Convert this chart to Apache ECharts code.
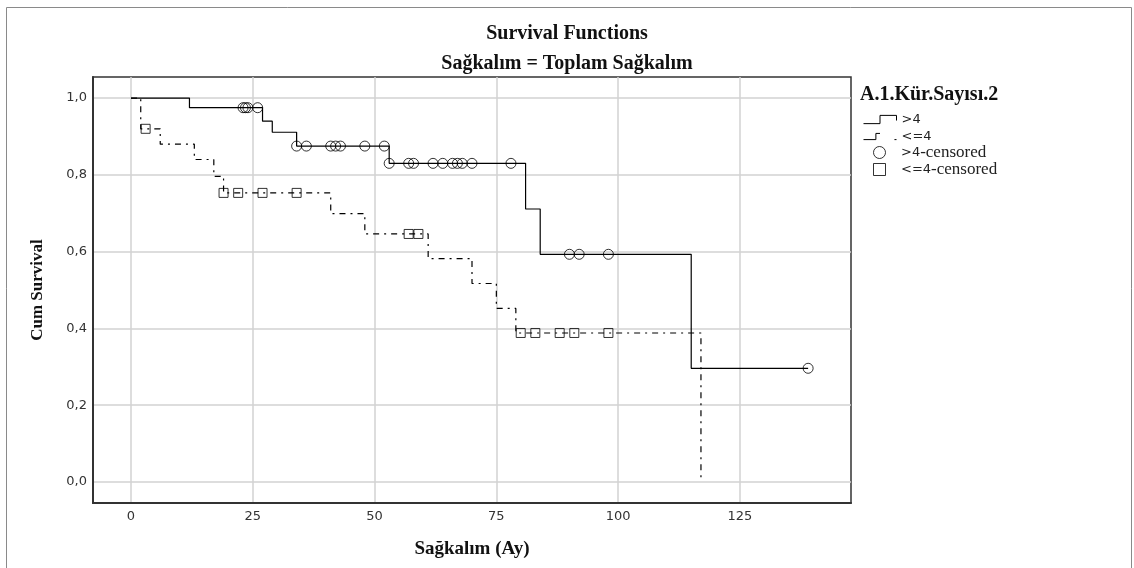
<!DOCTYPE html>
<html><head><meta charset="utf-8">
<script src="https://cdn.jsdelivr.net/npm/echarts@6/dist/echarts.min.js"></script>
<style>html,body{margin:0;padding:0;background:#fff}#c{width:1134px;height:568px}</style>
</head><body><div id="c"></div>
<script>
// Kaplan-Meier step points (time, survival after the drop)
const gt4Times = [0, 12, 27, 29, 34, 53, 81, 84, 115, 139];
const gt4Surv  = [1.0, 0.975, 0.940, 0.911, 0.875, 0.830, 0.711, 0.593, 0.296, 0.296];
const le4Times = [0, 2, 6, 13, 17, 19, 41, 48, 61, 70, 75, 79, 117];
const le4Surv  = [1.0, 0.92, 0.88, 0.84, 0.796, 0.753, 0.699, 0.646, 0.582, 0.517, 0.452, 0.388, 0.0];
// censored times
const gt4Censored = [23, 23.5, 24, 26, 34, 36, 41, 42, 43, 48, 52, 53, 57, 58, 62, 64, 66, 67, 68, 70, 78, 90, 92, 98, 139];
const le4Censored = [3, 19, 22, 27, 34, 57, 59, 80, 83, 88, 91, 98];
// ticks
const xTicks = [0, 25, 50, 75, 100, 125];
const yTicks = [0, 0.2, 0.4, 0.6, 0.8, 1.0];

function zip(a, b) { return a.map((v, i) => [v, b[i]]); }
function stepAt(times, surv, t) {
  let s = surv[0];
  for (let i = 0; i < times.length; i++) { if (times[i] <= t) s = surv[i]; }
  return s;
}
const serif = 'Liberation Serif';
const sans = 'DejaVu Sans';
const hollow = {color: 'rgba(0,0,0,0)', borderColor: '#000', borderWidth: 1};
const legendText = {rich: {
  s: {fontFamily: sans, fontSize: 13, color: '#222'},
  t: {fontFamily: serif, fontSize: 17, color: '#222'}
}};
const legendFmt = function (name) {
  const m = name.match(/^(.*?)(-censored)?$/);
  return '{s|' + m[1] + '}' + (m[2] ? '{t|' + m[2] + '}' : '');
};
const chart = echarts.init(document.getElementById('c'), null, {renderer: 'canvas'});
chart.setOption({
  animation: false,
  backgroundColor: '#fff',
  graphic: [{type: 'rect', silent: true, z: -10,
    shape: {x: 6.5, y: 7.5, width: 1125, height: 600},
    style: {fill: 'none', stroke: '#8a8a8a', lineWidth: 1}}],
  title: [
    {text: 'Survival Functions', left: 'center', top: 24, padding: 0,
      textStyle: {fontFamily: serif, fontWeight: 'bold', fontSize: 20, color: '#111'}},
    {text: 'Sağkalım = Toplam Sağkalım', left: 'center', top: 54, padding: 0,
      textStyle: {fontFamily: serif, fontWeight: 'bold', fontSize: 20, color: '#111'}},
    {text: 'A.1.Kür.Sayısı.2', left: 860, top: 85, padding: 0,
      textStyle: {fontFamily: serif, fontWeight: 'bold', fontSize: 20, color: '#111'}}
  ],
  grid: {left: 93, right: 283, top: 77, bottom: 65, show: true,
    borderColor: '#333', borderWidth: 1.5, backgroundColor: '#fff'},
  legend: [{
    orient: 'vertical', left: 863, top: 113, itemWidth: 33, itemHeight: 12, itemGap: 4,
    padding: 0, selectedMode: false, symbolKeepAspect: true,
    data: [
      {name: '>4', icon: 'path://M0,8 L16,8 L16,0 L32,0 L32,5', itemStyle: hollow},
      {name: '<=4', icon: 'path://M0,7 L12,7 L12,1 L16,1 M30,7 L32,7', itemStyle: hollow}
    ],
    formatter: legendFmt, textStyle: legendText
  }, {
    orient: 'vertical', left: 873, top: 144, itemWidth: 33, itemHeight: 12, itemGap: 0,
    padding: 0, selectedMode: false, symbolKeepAspect: true,
    data: [
      {name: '>4-censored', icon: 'circle', itemStyle: hollow},
      {name: '<=4-censored', icon: 'path://M0,0 L10,0 L10,10 L0,10 Z', itemStyle: hollow}
    ],
    formatter: legendFmt, textStyle: legendText
  }],
  xAxis: {
    type: 'value', min: -7.8, max: 147.8,
    name: 'Sağkalım (Ay)', nameLocation: 'middle', nameGap: 37,
    nameTextStyle: {fontFamily: serif, fontWeight: 'bold', fontSize: 19, color: '#111'},
    axisLine: {show: true, onZero: false, lineStyle: {color: '#333', width: 2}},
    axisTick: {show: false, customValues: xTicks},
    axisLabel: {customValues: xTicks, fontFamily: sans, fontSize: 13, color: '#333', margin: 7},
    splitLine: {show: true, lineStyle: {color: '#d2d2d2', width: 1.5}}
  },
  yAxis: {
    type: 'value', min: -0.055, max: 1.055,
    name: 'Cum Survival', nameLocation: 'middle', nameGap: 47, nameRotate: 90,
    nameTextStyle: {fontFamily: serif, fontWeight: 'bold', fontSize: 17, color: '#111'},
    axisLine: {show: true, onZero: false, lineStyle: {color: '#333', width: 2}},
    axisTick: {show: false, customValues: yTicks},
    axisLabel: {customValues: yTicks, fontFamily: sans, fontSize: 13, color: '#333', margin: 6,
      formatter: v => Number(v).toFixed(1).replace('.', ',')},
    splitLine: {show: true, lineStyle: {color: '#d2d2d2', width: 1.5}}
  },
  series: [
    {name: '>4', type: 'line', step: 'end', symbol: 'none', z: 3,
      data: zip(gt4Times, gt4Surv),
      lineStyle: {color: '#000', width: 1.2}, itemStyle: {color: '#000'}},
    {name: '<=4', type: 'line', step: 'end', symbol: 'none', z: 2,
      data: zip(le4Times, le4Surv),
      lineStyle: {color: '#000', width: 1.2, type: [6, 5, 2, 5]}, itemStyle: {color: '#000'}},
    {name: '>4-censored', type: 'scatter', symbol: 'circle', symbolSize: 10, z: 4,
      data: gt4Censored.map(t => [t, stepAt(gt4Times, gt4Surv, t)]),
      itemStyle: hollow},
    {name: '<=4-censored', type: 'scatter', symbol: 'rect', symbolSize: 9, z: 4,
      data: le4Censored.map(t => [t, stepAt(le4Times, le4Surv, t)]),
      itemStyle: hollow}
  ]
});
</script></body></html>
